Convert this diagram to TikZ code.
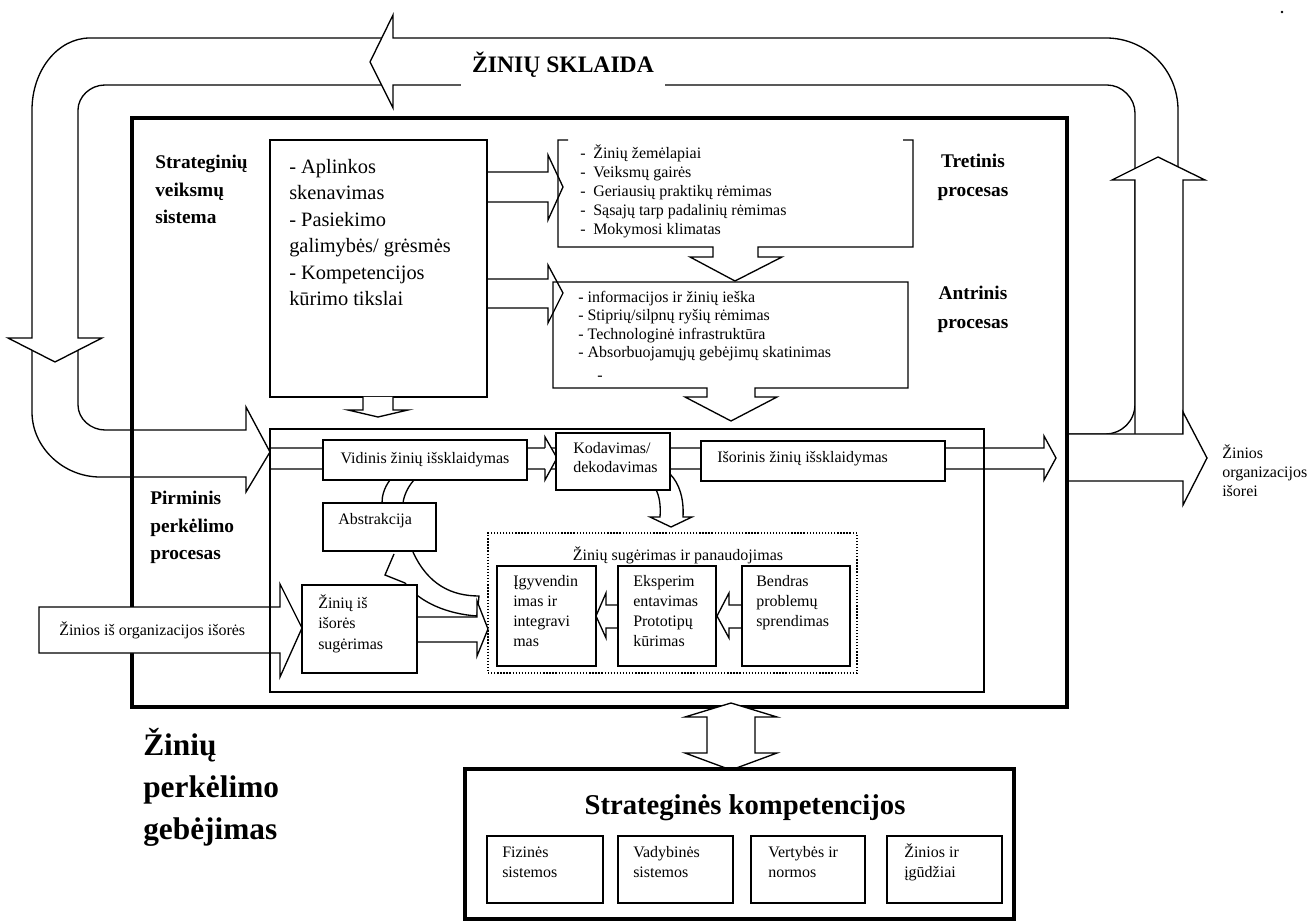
\documentclass[tikz,border=0pt]{standalone}
\usepackage{fontspec}
\setmainfont{Liberation Serif}
\usetikzlibrary{fit}
\newcommand\dashitem{\makebox[9.75pt][l]{-}}
\begin{document}
\begin{tikzpicture}[x=0.75pt,y=-0.75pt,
  ln/.style={line width=1pt, line join=miter},
  blk/.style={draw, line width=1pt, fill=white, line join=miter},
  box/.style={draw, line width=1pt, fill=white, inner sep=0pt},
  frame/.style={draw, line width=1pt, inner sep=0pt},
  heavy/.style={draw, line width=3pt, inner sep=0pt},
  small/.style={inner sep=0pt, align=left, font=\fontsize{12}{14.25}\selectfont},
  lbl/.style={inner sep=0pt, align=left, font=\bfseries\fontsize{14.5}{20.5}\selectfont},
  dots/.style={draw, line width=1.3pt, dash pattern=on 1pt off 1.3pt, inner sep=0pt}]
\useasboundingbox (0,0) rectangle (1311,923);

% ---- knowledge diffusion loop (right side, top, and head pointing left)
\draw[ln] (1178,175) -- (1178,110) .. controls (1178,70) and (1146,38) .. (1106,38)
  -- (393,38) -- (393,15) -- (370,62) -- (393,108) -- (393,85) -- (1107,85)
  .. controls (1122,85) and (1135,98) .. (1135,113) -- (1135,404)
  .. controls (1135,421) and (1122,434) .. (1105,434) -- (1067,434);
% left part of the loop with the downward head
\draw[ln] (381.7,38) -- (90,38) .. controls (58,38) and (32,70) .. (32,110) -- (32,338)
  -- (8,338) -- (55,362) -- (102,338) -- (78,338) -- (78,110)
  .. controls (78,97) and (90,85) .. (105,85) -- (381.5,85);
% lower bend entering the primary process
\draw[ln] (32,350) -- (32,412) .. controls (32,448) and (64,477) .. (100,477) -- (246,477)
  -- (246,492) -- (270,452) -- (246,407) -- (246,430) -- (105,430)
  .. controls (91,430) and (78,419) .. (78,405) -- (78,350);
% rising arrow on the right
\draw[blk] (1135,434) -- (1135,180) -- (1112,180) -- (1158,157) -- (1205,180) -- (1183,180) -- (1183,434);
% knowledge leaving the organisation
\draw[blk] (1067,434) -- (1183,434) -- (1183,412) -- (1207,458) -- (1183,505) -- (1183,481) -- (1067,481);

\node[fill=white, inner sep=0pt, minimum width=153pt, minimum height=34.5pt,
  font=\bfseries\fontsize{17.7}{20}\selectfont] (sklaida) at (563,65) {ŽINIŲ SKLAIDA};

% ---- transfer capability frame
\node[heavy, fit={(132,118) (1067,707)}] (main) {};

% knowledge from outside
\draw[blk] (39,607) -- (280,607) -- (280,584) -- (302,628) -- (280,677) -- (280,653) -- (39,653) -- cycle;

% ---- strategic action system
\draw[blk] (487,172) -- (548,172) -- (548,155) -- (563,187) -- (548,220) -- (548,202) -- (487,202);
\draw[blk] (487,279) -- (548,279) -- (548,265) -- (563,293) -- (548,323) -- (548,308) -- (487,308);
\node[box, fit={(270,140) (487,397)}] (strat) {};
\draw[blk] (363,397) -- (363,410) -- (348,410) -- (378,417) -- (408,410) -- (393,410) -- (393,397);

% tertiary process (open top) with arrow to the secondary one
\draw[ln] (568,140) -- (558,140) -- (558,247) -- (713,247) -- (713,257) -- (690,257) -- (735,281)
  -- (782,257) -- (758,257) -- (758,247) -- (913,247) -- (913,140) -- (903,140);
% secondary process with arrow to the primary one
\draw[ln] (707,388) -- (553,388) -- (553,282) -- (908,282) -- (908,388) -- (755,388) -- (755,397)
  -- (777,397) -- (731,421) -- (685,397) -- (707,397) -- cycle;

% ---- primary transfer process
\node[frame, fit={(270,429) (984,692)}] (prim) {};
\draw[ln] (270,448) -- (1044,448) -- (1044,436) -- (1056,458) -- (1044,480) -- (1044,469) -- (270,469);
\draw[blk] (545,448) -- (545,437) -- (557,458) -- (545,480) -- (545,469);

% curved links
\draw[ln] (390,480) .. controls (384,488) and (382,496) .. (382,503);
\draw[ln] (414,480) .. controls (407,488) and (404,496) .. (403,503);
\draw[blk] (670,474) .. controls (680,484) and (684,500) .. (683,517) -- (692,517) -- (671,527)
  -- (650,517) -- (660,517) .. controls (661,505) and (659,495) .. (656,490);
\draw[ln] (413,552) .. controls (428,585) and (452,596) .. (479,596) -- (477,616)
  .. controls (448,614) and (420,603) .. (405,583) -- (385,575) -- (394,554);
\draw[blk] (417,617) -- (477,617) -- (477,601) -- (488,629) -- (477,656) -- (477,642) -- (417,642);

\node[box, fit={(323,440) (527,480)}] (vid) {};
\node[box, fit={(556,433) (670,490)}] (kod) {};
\node[box, fit={(701,441) (945,481)}] (isor) {};
\node[box, fit={(323,503) (436,551)}] (abs) {};
\node[box, fit={(302,585) (417,673)}] (sug) {};
\node[dots, fit={(488,533) (857,673)}] (panaud) {};

\draw[blk] (618,605) -- (606,605) -- (606,593) -- (596,616) -- (606,638) -- (606,628) -- (618,628);
\draw[blk] (742,605) -- (729,605) -- (729,593) -- (717,616) -- (729,638) -- (729,628) -- (742,628);
\node[box, fit={(497,566) (596,666)}] (igyv) {};
\node[box, fit={(618,566) (716,666)}] (eksp) {};
\node[box, fit={(742,566) (850,666)}] (bendr) {};

% ---- strategic competences
\draw[blk] (707,753) -- (707,717) -- (685,717) -- (731,703) -- (777,717) -- (755,717) -- (755,753)
  -- (777,753) -- (731,770) -- (685,753) -- cycle;
\node[heavy, fit={(465,769) (1014,919)}] (komp) {};
\node[box, fit={(487,836) (603,903)}] (fiz) {};
\node[box, fit={(618,836) (733,903)}] (vad) {};
\node[box, fit={(751,836) (865,903)}] (vert) {};
\node[box, fit={(887,836) (1002,903)}] (zin) {};

% ---- texts
\node[lbl, anchor=north west] (stratlbl) at (155,155) {Strateginių\\veiksmų\\sistema};
\node[inner sep=0pt, align=left, anchor=north west, font=\fontsize{15.3}{19.8}\selectfont] (strattxt)
  at (289,159) {- Aplinkos\\skenavimas\\- Pasiekimo\\galimybės/ grėsmės\\- Kompetencijos\\kūrimo tikslai};
\node[small, anchor=north west] (trettxt) at (580,144) {\dashitem Žinių žemėlapiai\\\dashitem Veiksmų gairės\\
  \dashitem Geriausių praktikų rėmimas\\\dashitem Sąsajų tarp padalinių rėmimas\\\dashitem Mokymosi klimatas};
\node[lbl, align=center, anchor=north, font=\bfseries\fontsize{14.5}{21.5}\selectfont] (tretlbl) at (973,154) {Tretinis\\procesas};
\node[small, anchor=north west, font=\fontsize{12}{13.8}\selectfont] (antrtxt) at (578,291)
  {- informacijos ir žinių ieška\\- Stiprių/silpnų ryšių rėmimas\\- Technologinė infrastruktūra\\- Absorbuojamųjų gebėjimų skatinimas};
\node[inner sep=0pt, font=\fontsize{12}{14}\selectfont] (cutdash) at (600,378) {-};
\node[lbl, align=center, anchor=north, font=\bfseries\fontsize{14.5}{21.5}\selectfont] (antrlbl) at (973,286) {Antrinis\\procesas};
\node[lbl, anchor=north west] (primlbl) at (150,491) {Pirminis\\perkėlimo\\procesas};
\node[small] at (vid.center) {Vidinis žinių išsklaidymas};
\node[small, anchor=north west] (kodtxt) at (573,442) {Kodavimas/\\dekodavimas};
\node[small, anchor=west] (isortxt) at (717,459) {Išorinis žinių išsklaidymas};
\node[small, anchor=west] (abstxt) at (338,521) {Abstrakcija};
\node[small] (panaudtxt) at (678,555) {Žinių sugėrimas ir panaudojimas};
\node[small, anchor=north west, font=\fontsize{12}{15}\selectfont] (igyvtxt) at (513,575) {Įgyvendin\\imas ir\\integravi\\mas};
\node[small, anchor=north west, font=\fontsize{12}{15}\selectfont] (eksptxt) at (633,575) {Eksperim\\entavimas\\Prototipų\\kūrimas};
\node[small, anchor=north west, font=\fontsize{12}{15}\selectfont] (bendrtxt) at (756,575) {Bendras\\problemų\\sprendimas};
\node[small, anchor=north west, font=\fontsize{12}{15.4}\selectfont] (sugtxt) at (318,594) {Žinių iš\\išorės\\sugėrimas};
\node[small, anchor=west] (orgtxt) at (59,630) {Žinios iš organizacijos išorės};
\node[small, anchor=north west] (outtxt) at (1222,444) {Žinios\\organizacijos\\išorei};
\node[inner sep=0pt, align=left, anchor=north west, font=\bfseries\fontsize{23.5}{31.5}\selectfont] (geb)
  at (143,728) {Žinių\\perkėlimo\\gebėjimas};
\node[inner sep=0pt, font=\bfseries\fontsize{21.5}{24}\selectfont] (komptxt) at (745,808) {Strateginės kompetencijos};
\node[small, anchor=north west, font=\fontsize{12}{15}\selectfont] (fiztxt) at (502,843) {\vphantom{Ž}Fizinės\\sistemos};
\node[small, anchor=north west, font=\fontsize{12}{15}\selectfont] (vadtxt) at (633,843) {\vphantom{Ž}Vadybinės\\sistemos};
\node[small, anchor=north west, font=\fontsize{12}{15}\selectfont] (verttxt) at (768,843) {\vphantom{Ž}Vertybės ir\\normos};
\node[small, anchor=north west, font=\fontsize{12}{15}\selectfont] (zintxt) at (904,843) {Žinios ir\\įgūdžiai};
\fill (1282,12) circle (1pt);
\end{tikzpicture}
\end{document}
